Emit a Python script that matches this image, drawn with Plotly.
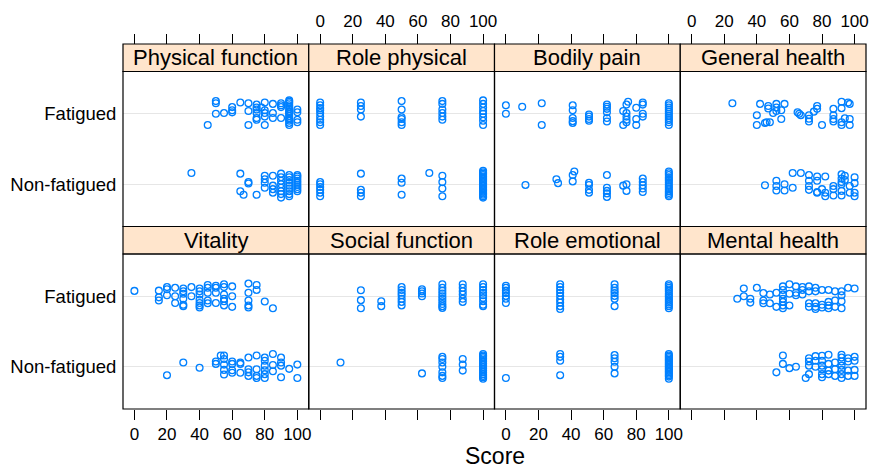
import plotly.graph_objects as go

# ---------------- data ----------------
panel_names = ["Physical function", "Role physical", "Bodily pain", "General health",
               "Vitality", "Social function", "Role emotional", "Mental health"]
group_labels = ["Non-fatigued", "Fatigued"]
x_tick_values = [0, 20, 40, 60, 80, 100]

# Physical function
pf_fat = [45, 50, 50, 50, 55, 60, 60, 60, 65, 70, 70, 70, 75, 75, 75, 75, 75, 75,
          78, 80, 80, 80, 80, 80, 85, 85, 85, 90, 90, 90, 90,
          95, 95, 95, 95, 95, 95, 95, 95, 95, 95, 95, 95, 95, 95, 95, 100, 100, 100, 100]
pf_fat_j = [-0.16, 0.18, 0.15, 0.0, 0.01, 0.095, 0.05, 0.02, 0.16, 0.15, 0.04, -0.16,
            0.13, 0.09, 0.06, 0.01, -0.06, -0.085, 0.09, 0.16, 0.05, 0.01, -0.04, -0.16,
            0.14, 0.01, -0.06, 0.15, 0.12, 0.095, -0.06,
            0.19, 0.17, 0.15, 0.12, 0.1, 0.07, 0.04, 0.02, 0.0, -0.03, -0.06, -0.08, -0.1, -0.13, -0.16,
            0.06, 0.02, -0.085, -0.12]
pf_non = [35, 65, 70, 70, 65, 67, 75, 80, 80, 80, 80, 85, 85, 85, 85,
          90, 90, 90, 90, 90, 90, 90, 90, 95, 95, 95, 95, 95, 95, 95, 95, 95,
          100, 100, 100, 100, 100, 100, 100, 100, 100]
pf_non_j = [0.16, 0.15, 0.03, 0.01, -0.1, -0.15, -0.15, 0.12, 0.07, 0.02, -0.05,
            0.12, -0.02, -0.07, -0.12, 0.15, 0.1, 0.05, 0.0, -0.05, -0.1, -0.14, -0.19,
            0.13, 0.1, 0.06, 0.02, -0.02, -0.06, -0.1, -0.14, -0.17,
            0.13, 0.11, 0.08, 0.05, 0.02, -0.01, -0.04, -0.07, -0.1]

# Role physical
rp_fat = [0] * 9 + [25] * 4 + [50] * 6 + [75] * 6 + [100] * 8
rp_fat_j = [0.16, 0.12, 0.08, 0.05, 0.01, -0.04, -0.085, -0.12, -0.16,
            0.16, 0.11, 0.06, -0.04,
            0.18, 0.06, -0.05, -0.075, -0.12, -0.16,
            0.18, 0.14, 0.06, 0.01, -0.04, -0.085,
            0.19, 0.14, 0.09, 0.04, 0.0, -0.05, -0.1, -0.16]
rp_non = [0] * 6 + [25] * 4 + [50] * 3 + [67] + [75] * 4 + [100] * 20
rp_non_j = [0.03, 0.0, -0.04, -0.08, -0.12, -0.17,
            0.15, -0.08, -0.12, -0.17,
            0.08, 0.02, -0.15,
            0.16,
            0.12, 0.03, -0.06, -0.17,
            0.19, 0.17, 0.15, 0.13, 0.11, 0.09, 0.07, 0.05, 0.03, 0.01,
            -0.01, -0.03, -0.05, -0.07, -0.09, -0.11, -0.13, -0.15, -0.17, -0.19]

# Bodily pain
bp_fat = [0, 0, 10, 22, 22, 41, 41, 41, 41, 41, 51, 51, 51, 51, 62, 62, 62, 62, 62, 62,
          72, 72, 74, 75, 74, 74, 74, 74, 80, 80, 80, 84, 84, 84, 84,
          100, 100, 100, 100, 100, 100, 100, 100, 100, 100, 100]
bp_fat_j = [0.12, 0.0, 0.1, 0.15, -0.16, 0.12, 0.05, -0.06, -0.105, -0.13,
            -0.01, -0.04, -0.075, -0.1, 0.13, 0.1, 0.07, 0.02, -0.06, -0.11,
            0.04, -0.16, 0.13, 0.17, 0.01, -0.04, -0.085, -0.12, 0.085, -0.075, -0.16,
            0.16, 0.13, 0.0, -0.04,
            0.15, 0.12, 0.09, 0.06, 0.03, 0.0, -0.03, -0.06, -0.09, -0.12, -0.16]
bp_non = [12, 31, 32, 41, 41, 42, 51, 51, 51, 51, 62, 62, 62, 62, 62, 72, 74, 74,
          84, 84, 84, 84, 84] + [100] * 14
bp_non_j = [-0.01, 0.07, 0.015, 0.04, 0.13, 0.18, 0.02, -0.01, -0.08, -0.12,
            0.13, -0.05, -0.095, -0.13, -0.18, -0.02, 0.0, -0.095,
            0.08, 0.03, -0.015, -0.06, -0.11,
            0.18, 0.155, 0.13, 0.1, 0.075, 0.05, 0.02, -0.01, -0.04, -0.07, -0.1, -0.125, -0.15, -0.17]

# General health
gh_fat = [25, 40, 40, 42, 45, 46, 47, 47, 48, 50, 52, 52, 52, 55, 55, 57, 65, 66, 67,
          72, 72, 72, 75, 77, 77, 80, 87, 87, 87, 87, 92, 92, 92, 92, 94, 97, 97, 96, 97]
gh_fat_j = [0.15, -0.02, -0.16, 0.14, -0.13, -0.12, 0.11, 0.075, -0.12, 0.01,
            0.14, 0.09, 0.04, 0.05, -0.075, 0.14, 0.02, 0.0, -0.02,
            -0.02, -0.07, -0.11, 0.03, 0.11, 0.07, -0.16, 0.07, -0.02, -0.075, -0.11,
            0.17, 0.08, -0.12, -0.16, -0.065, -0.075, -0.16, 0.16, 0.14]
gh_non = [45, 52, 52, 52, 57, 57, 62, 62, 67, 72, 72, 72, 72, 77, 77, 77, 77, 82, 80, 82, 82,
          87, 87, 87, 92, 92, 92, 92, 92, 92, 94, 94, 97, 97, 100, 100, 100, 100]
gh_non_j = [-0.015, 0.05, -0.025, -0.09, 0.0, -0.09, -0.05, 0.16, 0.16,
            0.13, 0.05, -0.025, -0.08, 0.11, 0.05, -0.12, -0.11, 0.11, -0.07, -0.12, -0.17,
            -0.025, -0.07, -0.16, 0.14, 0.08, 0.03, 0.0, -0.095, -0.16, 0.12, 0.06,
            -0.025, -0.12, 0.1, 0.015, -0.12, -0.17]

# Vitality
vt_fat = [0, 15, 15, 15, 20, 20, 20, 25, 25, 25, 30, 30, 30, 30, 30, 30, 35, 35,
          40, 40, 40, 40, 40, 40, 40, 45, 45, 45, 45, 45, 50, 50, 50, 50,
          55, 55, 55, 55, 55, 55, 60, 60, 60, 70, 70, 70, 70, 70, 75, 75, 80, 85]
vt_fat_j = [0.076, 0.08, -0.015, -0.06, 0.13, 0.1, 0.015, 0.12, 0.0, -0.095,
            0.11, 0.07, 0.035, -0.035, -0.12, -0.14, 0.13, 0.0,
            0.11, 0.07, 0.025, -0.05, -0.095, -0.13, -0.16, 0.16, 0.12, 0.05, -0.06, -0.1,
            0.15, 0.12, 0.05, -0.095, 0.17, 0.13, 0.025, -0.035, -0.07, -0.13,
            0.14, 0.0, -0.15, 0.18, 0.05, -0.06, -0.13, -0.16, 0.16, 0.09, -0.075, -0.17]
vt_non = [20, 30, 40, 50, 50, 53, 55, 55, 55, 55, 55, 60, 60, 60, 60, 65, 65, 65,
          70, 70, 70, 70, 75, 75, 75, 75, 80, 80, 80, 80, 80, 80, 85, 85, 85,
          90, 90, 90, 90, 95, 100, 100]
vt_non_j = [-0.12, 0.06, -0.015, 0.075, 0.04, 0.16, 0.16, 0.11, 0.03, -0.045, -0.11,
            0.075, 0.04, -0.05, -0.085, 0.06, 0.04, -0.085, 0.13, -0.035, -0.08, -0.13,
            0.16, -0.035, -0.13, -0.16, 0.13, 0.085, 0.015, -0.05, -0.105, -0.16,
            0.18, 0.025, -0.065, 0.13, 0.06, 0.015, -0.15, -0.03, 0.03, -0.16]

# Social function
sf_fat = [25] * 3 + [37.5] * 2 + [50] * 7 + [62.5] * 4 + [75] * 10 + [87.5] * 6 + [100] * 9
sf_fat_j = [0.085, -0.055, -0.17, -0.07, -0.14,
            0.13, 0.09, 0.05, 0.015, -0.035, -0.08, -0.13,
            0.1, 0.07, 0.04, 0.0,
            0.17, 0.12, 0.08, 0.04, 0.0, -0.035, -0.07, -0.11, -0.14, -0.165,
            0.17, 0.12, 0.07, 0.025, -0.035, -0.08,
            0.17, 0.13, 0.09, 0.05, 0.015, -0.025, -0.07, -0.12, -0.14]
sf_non = [12.5, 62.5] + [75] * 7 + [87.5] * 3 + [100] * 16
sf_non_j = [0.06, -0.095, 0.14, 0.11, 0.06, 0.0, -0.08, -0.13, -0.16,
            0.11, 0.03, -0.055,
            0.18, 0.16, 0.14, 0.12, 0.095, 0.07, 0.045, 0.02, -0.005, -0.03, -0.055,
            -0.08, -0.105, -0.13, -0.15, -0.17]

# Role emotional
re_fat = [0] * 7 + [33.3] * 9 + [66.7] * 7 + [100] * 14
re_fat_j = [0.15, 0.12, 0.08, 0.045, 0.005, -0.035, -0.095,
            0.17, 0.13, 0.09, 0.05, 0.005, -0.045, -0.09, -0.14, -0.18,
            0.17, 0.12, 0.08, 0.045, 0.005, -0.035, -0.14,
            0.17, 0.145, 0.12, 0.095, 0.07, 0.04, 0.015, -0.01, -0.04, -0.065,
            -0.09, -0.115, -0.14, -0.17]
re_non = [0] + [33.3] * 4 + [66.7] * 5 + [100] * 18
re_non_j = [-0.16, 0.18, 0.14, 0.085, -0.12, 0.165, 0.12, 0.07, 0.0, -0.095,
            0.18, 0.16, 0.14, 0.12, 0.1, 0.08, 0.06, 0.04, 0.02, 0.0,
            -0.02, -0.04, -0.06, -0.08, -0.1, -0.12, -0.14, -0.17]

# Mental health
mh_fat = [28, 32, 32, 36, 36, 40, 44, 44, 44, 48, 48, 52, 52,
          56, 56, 56, 56, 56, 56, 56, 60, 60, 60, 64, 64, 64, 68, 68, 68,
          72, 72, 72, 72, 76, 76, 76, 76, 76, 80, 80, 80, 84, 84, 84, 84,
          88, 88, 88, 92, 92, 92, 92, 96, 100]
mh_fat_j = [-0.035, 0.11, 0.0, -0.035, -0.09, 0.12, 0.045, -0.06, -0.1, 0.025, -0.1, 0.05, -0.15,
            0.14, 0.09, 0.025, -0.035, -0.08, -0.13, -0.17, 0.17, 0.035, -0.13,
            0.14, 0.05, 0.015, 0.13, 0.09, 0.025, 0.14, 0.07, -0.1, -0.15,
            0.12, 0.07, -0.1, -0.15, -0.18, 0.09, -0.12, -0.16, 0.09, -0.08, -0.13, -0.17,
            0.07, -0.06, -0.15, 0.07, 0.015, -0.07, -0.17, 0.12, 0.11]
mh_non = [52, 56, 56, 60, 64, 70, 72, 72, 72, 72, 76, 76, 76,
          80, 80, 80, 80, 80, 80, 84, 84, 84, 84, 88, 88, 88,
          92, 92, 92, 92, 92, 92, 92, 96, 96, 96, 96, 100, 100, 100, 100]
mh_non_j = [-0.08, 0.16, 0.04, -0.02, 0.0, -0.16, -0.105, 0.12, 0.075, 0.015,
            0.15, 0.085, 0.0, 0.155, 0.085, 0.015, -0.035, -0.105, -0.15,
            0.17, 0.04, -0.055, -0.105, 0.06, -0.035, -0.13,
            0.17, 0.13, 0.075, 0.015, -0.045, -0.105, -0.16,
            0.12, 0.075, -0.055, -0.13, 0.14, 0.085, -0.045, -0.13]

fatigued_scores = [pf_fat, rp_fat, bp_fat, gh_fat, vt_fat, sf_fat, re_fat, mh_fat]
fatigued_jitter = [pf_fat_j, rp_fat_j, bp_fat_j, gh_fat_j, vt_fat_j, sf_fat_j, re_fat_j, mh_fat_j]
nonfat_scores = [pf_non, rp_non, bp_non, gh_non, vt_non, sf_non, re_non, mh_non]
nonfat_jitter = [pf_non_j, rp_non_j, bp_non_j, gh_non_j, vt_non_j, sf_non_j, re_non_j, mh_non_j]

# ---------------- layout ----------------
FONT = "Liberation Sans, Arial, Helvetica, sans-serif"
W, H = 872, 469
ML, MR, MT, MB = 123, 6, 44, 60
plot_h = H - MT - MB
strip_frac = 27.5 / plot_h
panel_frac = 0.5 - strip_frac
row_dom = [[0.5, 0.5 + panel_frac], [0.0, panel_frac]]   # row 0 = top
STRIP_FILL = "#ffe5cc"
PT_COL = "#0080ff"

fig = go.Figure()
layout = {}
shapes = []
annotations = []

for i, name in enumerate(panel_names):
    row, col = divmod(i, 4)
    k = i + 1
    xs = "x" if k == 1 else f"x{k}"
    ys = "y" if k == 1 else f"y{k}"
    xdom = [col / 4, (col + 1) / 4]
    ydom = row_dom[row]

    for sc, jt, lvl in [(nonfat_scores[i], nonfat_jitter[i], 1), (fatigued_scores[i], fatigued_jitter[i], 2)]:
        n = min(len(sc), len(jt))
        fig.add_trace(go.Scatter(
            x=sc[:n], y=[lvl + j for j in jt[:n]], mode="markers",
            marker=dict(symbol="circle-open", size=6.8, color=PT_COL, line=dict(width=1.3, color=PT_COL)),
            xaxis=xs, yaxis=ys, showlegend=False, hoverinfo="skip", cliponaxis=False))

    xa = dict(domain=xdom, range=[-7, 107], tickvals=x_tick_values,
              ticks="outside", ticklen=10, tickwidth=1, tickcolor="black",
              showgrid=False, zeroline=False, showline=False, automargin=False,
              tickfont=dict(family=FONT, size=17, color="black"), fixedrange=True)
    if row == 0:
        xa.update(side="top", anchor="free", position=1.0,
                  showticklabels=(col in (1, 3)))
    else:
        xa.update(side="bottom", anchor=ys, showticklabels=(col in (0, 2)))
    ya = dict(domain=ydom, range=[0.4, 2.6], tickvals=[1, 2], ticktext=group_labels,
              showgrid=True, gridcolor="#e6e6e6", gridwidth=1.2, zeroline=False, showline=False,
              ticks="outside", ticklen=2, tickcolor="rgba(0,0,0,0)", automargin=False,
              showticklabels=(col == 0), anchor=xs,
              tickfont=dict(family=FONT, size=18.5, color="black"), fixedrange=True)
    layout["xaxis" if k == 1 else f"xaxis{k}"] = xa
    layout["yaxis" if k == 1 else f"yaxis{k}"] = ya

    # panel border
    shapes.append(dict(type="rect", xref="paper", yref="paper", x0=xdom[0], x1=xdom[1],
                       y0=ydom[0], y1=ydom[1], line=dict(color="black", width=1.2), layer="above"))
    # strip
    shapes.append(dict(type="rect", xref="paper", yref="paper", x0=xdom[0], x1=xdom[1],
                       y0=ydom[1], y1=ydom[1] + strip_frac, fillcolor=STRIP_FILL,
                       line=dict(color="black", width=1.2), layer="below"))
    annotations.append(dict(text=name, xref="paper", yref="paper", x=(xdom[0] + xdom[1]) / 2,
                            y=ydom[1] + strip_frac / 2, showarrow=False, xanchor="center",
                            yanchor="middle", font=dict(family=FONT, size=22, color="black")))

annotations.append(dict(text="Score", xref="paper", yref="paper", x=0.5, y=-(456 - 409) / plot_h,
                        showarrow=False, xanchor="center", yanchor="middle",
                        font=dict(family=FONT, size=23, color="black")))

fig.update_layout(width=W, height=H, margin=dict(l=ML, r=MR, t=MT, b=MB, autoexpand=False),
                  paper_bgcolor="white", plot_bgcolor="white",
                  shapes=shapes, annotations=annotations, **layout)

fig.write_html("out.html", config={"displayModeBar": False},
               post_script="document.body.style.margin='0px';document.body.style.padding='0px';")
